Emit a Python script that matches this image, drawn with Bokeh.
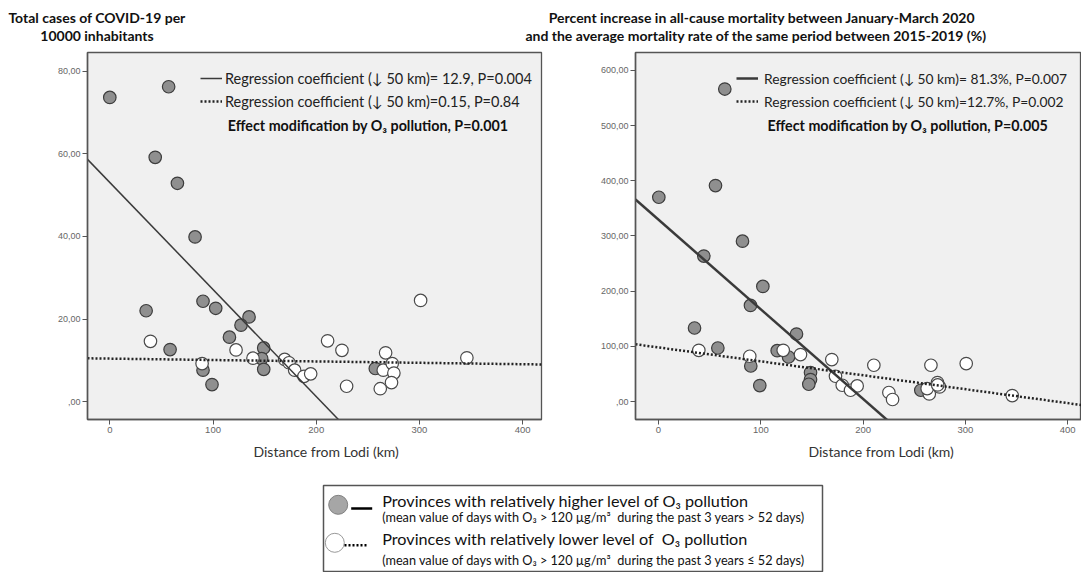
from bokeh.plotting import figure
from bokeh.models import Range1d, FixedTicker, Title, Legend, LegendItem, Label
from bokeh.layouts import column, row
from bokeh.embed import file_html
from bokeh.resources import INLINE
from bokeh.core.properties import value

# ---------------- data ----------------
left_title = ["Total cases of COVID-19 per", "10000 inhabitants"]
right_title = ["Percent increase in all-cause mortality between January-March 2020",
               "and the average mortality rate of the same period between 2015-2019 (%)"]
x_title = "Distance from Lodi (km)"

x_ticks = [0, 100, 200, 300, 400]
x_tick_labels = ["0", "100", "200", "300", "400"]
cases_ticks = [0, 20, 40, 60, 80]
cases_tick_labels = [",00", "20,00", "40,00", "60,00", "80,00"]
mort_ticks = [0, 100, 200, 300, 400, 500, 600]
mort_tick_labels = [",00", "100,00", "200,00", "300,00", "400,00", "500,00", "600,00"]

# Total cases per 10000 inhabitants
cases_high_km = [0, 57, 44, 65.5, 82.6, 35.2, 90.3, 102.6, 134.9, 127.1, 115.9, 58.4,
                 149.1, 147.1, 149.1, 90.3, 99.0, 257.2]
cases_high = [73.7, 76.3, 59.2, 52.9, 39.9, 22.0, 24.3, 22.6, 20.5, 18.5, 15.6, 12.6,
              13.0, 10.4, 7.8, 7.6, 4.1, 8.0]
cases_low_km = [39.4, 89.4, 122.3, 138.7, 169.4, 173.6, 179.1, 188.1, 194.6, 211.0,
                224.9, 229.4, 267.2, 264.9, 273.6, 275.2, 272.9, 262.0, 301.1, 345.9]
cases_low = [14.6, 9.2, 12.5, 10.5, 10.2, 9.4, 7.6, 6.1, 6.7, 14.7,
             12.4, 3.7, 11.8, 7.6, 9.2, 6.9, 4.6, 3.1, 24.5, 10.6]

# Percent increase in all-cause mortality
mort_high_km = [0.3, 64.8, 55.7, 82.1, 44.3, 102.0, 89.9, 35.2, 134.9, 58.0, 116.0,
                127.1, 90.2, 99.0, 148.6, 148.6, 146.9, 256.4]
mort_high = [370.2, 566.3, 391.3, 290.6, 263.5, 208.6, 174.2, 133.2, 122.3, 97.0, 92.2,
             80.7, 64.4, 28.9, 52.5, 39.8, 31.3, 20.4]
mort_low_km = [39.4, 89.2, 121.9, 138.8, 169.4, 173.0, 179.6, 187.7, 194.2, 210.5,
               225.2, 228.8, 266.3, 264.7, 272.7, 274.7, 262.6, 272.9, 300.8, 345.8]
mort_low = [92.8, 82.0, 92.8, 85.0, 76.0, 45.8, 29.5, 20.4, 28.2, 65.7,
            16.3, 3.6, 65.7, 13.8, 34.4, 26.4, 23.5, 30.0, 68.8, 10.8]

# regression fits: [intercept, slope per km]
cases_fit_high = [53.1, -0.2595]
cases_fit_low = [10.4, -0.0034]
mort_fit_high = [329.5, -1.624]
mort_fit_low = [98.0, -0.2523]

cases_legend = ["Regression coefficient (\u2193 50 km)= 12.9, P=0.004",
                "Regression coefficient (\u2193 50 km)=0.15, P=0.84",
                "Effect modification by O\u2083 pollution, P=0.001"]
mort_legend = ["Regression coefficient (\u2193 50 km)= 81.3%, P=0.007",
               "Regression coefficient (\u2193 50 km)=12.7%, P=0.002",
               "Effect modification by O\u2083 pollution, P=0.005"]

key_texts = ["Provinces with relatively higher level of O\u2083 pollution",
             "(mean value of days with O\u2083 > 120 \u00b5g/m\u00b3\u00a0 during the past 3 years > 52 days)",
             "Provinces with relatively lower level of\u00a0 O\u2083 pollution",
             "(mean value of days with O\u2083 > 120 \u00b5g/m\u00b3\u00a0 during the past 3 years \u2264 52 days)"]

FONT = "Lato"
HIGH_FILL = "#8f8f8f"
EDGE = "#3d3d3d"


def panel(width, xr, yr, min_left, min_right, hx, hy, lx, ly, yticks, ylabels,
          fit_h, fit_l, texts, leg_x, leg_standoff, leg_size, bold_xy, xt_offset, solid_w):
    p = figure(width=width, height=427, x_range=Range1d(*xr), y_range=Range1d(*yr),
               output_backend="svg", toolbar_location=None, title=None,
               min_border_left=min_left, min_border_right=min_right,
               min_border_top=1, min_border_bottom=59)
    p.background_fill_color = "#f0f0f0"
    p.border_fill_color = "white"
    p.outline_line_color = "#555555"
    p.outline_line_width = 1.3
    p.grid.visible = False

    p.xaxis.ticker = FixedTicker(ticks=x_ticks)
    p.xaxis.major_label_overrides = dict(zip(x_ticks, x_tick_labels))
    p.yaxis.ticker = FixedTicker(ticks=yticks)
    p.yaxis.major_label_overrides = dict(zip(yticks, ylabels))
    for ax in p.axis:
        ax.axis_line_color = "#555555"
        ax.axis_line_width = 1.5
        ax.major_tick_line_color = "#555555"
        ax.major_tick_out = 5
        ax.major_tick_in = 0
        ax.minor_tick_line_color = None
        ax.major_label_text_font = "Liberation Sans"
        ax.major_label_text_color = "#666666"
        ax.major_label_standoff = 2
    p.xaxis.major_label_text_font_size = "9.5px"
    p.yaxis.major_label_text_font_size = "9px"

    p.add_layout(Title(text=x_title, align="left", offset=xt_offset, text_font=FONT,
                       text_font_size="14px", text_font_style="normal",
                       text_color="#333333", standoff=10), "below")

    p.scatter(hx, hy, size=12.5, fill_color=HIGH_FILL, line_color=EDGE, line_width=1.2)
    p.scatter(lx, ly, size=12.5, fill_color="white", line_color="#4a4a4a", line_width=1.2)

    xs = [xr[0], xr[1]]
    r1 = p.line(xs, [fit_h[0] + fit_h[1] * x for x in xs], line_color="#3a3a3a",
                line_width=solid_w)
    r2 = p.line(xs, [fit_l[0] + fit_l[1] * x for x in xs], line_color="#222222",
                line_width=2.5, line_dash="2 2")

    leg = Legend(items=[LegendItem(label=texts[0], renderers=[r1]),
                        LegendItem(label=texts[1], renderers=[r2])],
                 location=(leg_x, 306.5), padding=0, margin=0, spacing=0,
                 glyph_width=22, glyph_height=16, label_height=23,
                 label_standoff=leg_standoff, label_text_font=FONT,
                 label_text_font_size=leg_size, label_text_color="#222222",
                 border_line_color=None, background_fill_alpha=0)
    p.add_layout(leg)
    p.add_layout(Label(x=bold_xy[0], y=bold_xy[1], text=texts[2], text_font=FONT,
                       text_font_size="14.3px", text_font_style="bold",
                       text_baseline="middle", text_color="#111111"))
    return p


p1 = panel(565, (-21.6, 418.2), (-4.36, 84.6), 87, 24, cases_high_km, cases_high,
           cases_low_km, cases_low, cases_ticks, cases_tick_labels,
           cases_fit_high, cases_fit_low, cases_legend, 113, 3, "14.5px",
           (114.3, 66.9), 166, 1.5)
p2 = panel(516, (-22.5, 413.5), (-32.6, 632.5), 70, 0, mort_high_km, mort_high,
           mort_low_km, mort_low, mort_ticks, mort_tick_labels,
           mort_fit_high, mort_fit_low, mort_legend, 101, 6, "13.8px",
           (106.6, 500.2), 173, 2.5)

# header with the two panel titles
head = figure(width=1081, height=51, x_range=Range1d(0, 1081), y_range=Range1d(51, 0),
              output_backend="svg", toolbar_location=None, title=None,
              x_axis_location=None, y_axis_location=None, min_border=0)
head.grid.visible = False
head.outline_line_color = None
head.text(x=[96.5, 96.5, 761.5, 755.5], y=[16.7, 35, 16.7, 35],
          text=[left_title[0], left_title[1], right_title[0], right_title[1]],
          text_font=value(FONT), text_font_size="14px", text_font_style="bold",
          text_align="center", text_baseline="middle", text_color="#111111")

# key box at the bottom
key = figure(width=1081, height=94, x_range=Range1d(0, 1081), y_range=Range1d(94, 0),
             output_backend="svg", toolbar_location=None, title=None,
             x_axis_location=None, y_axis_location=None, min_border=0)
key.grid.visible = False
key.outline_line_color = None
key.quad(left=[323], right=[822], top=[7], bottom=[93], fill_color="white",
         line_color="#555555", line_width=1.5)
key.scatter([337.7], [26.3], size=19, fill_color="#a6a6a6", line_color="#808080", line_width=1)
key.scatter([334.3], [64.3], size=19, fill_color="white", line_color="#999999", line_width=1)
key.line([350.7, 371.7], [30, 30], line_color="black", line_width=2.5)
key.line([344, 367], [66.7, 66.7], line_color="black", line_width=2.5, line_dash="2 2")
key.text(x=[381.7, 381.7], y=[22, 60], text=[key_texts[0], key_texts[2]],
         text_font=value(FONT), text_font_size="16.2px", text_baseline="middle",
         text_color="#111111")
key.text(x=[381.7, 381.7], y=[38, 81.3], text=[key_texts[1], key_texts[3]],
         text_font=value(FONT), text_font_size="12.7px", text_baseline="middle",
         text_color="#111111")

layout = column(head, row(p1, p2), key)
open("out.html", "w").write(file_html(layout, INLINE))
